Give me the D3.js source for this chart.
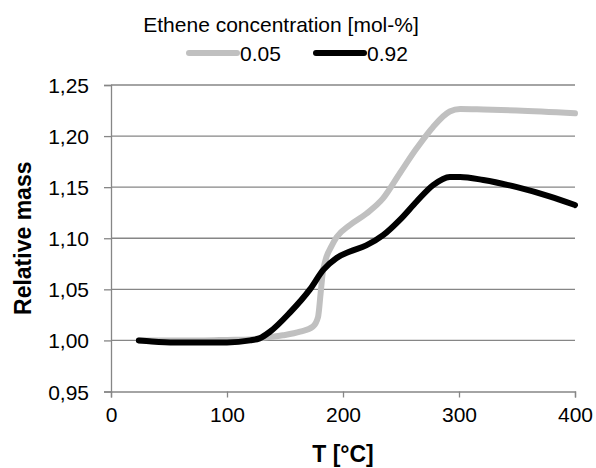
<!DOCTYPE html>
<html>
<head>
<meta charset="utf-8">
<script src="https://cdn.jsdelivr.net/npm/d3@7"></script>
<style>
  body { margin: 0; background: #fff; }
  text { font-family: "Liberation Sans", Arial, sans-serif; fill: #000; }
</style>
</head>
<body>
<div id="chart"></div>
<script>
// T [°C] and relative mass
var tLow = [24, 40, 60, 80, 100, 120, 134, 148, 163, 174, 178.5, 180.7, 182.5, 185, 190, 194.5, 206, 220, 234.5, 249, 263.5, 277.7, 292, 301, 321, 350, 400];
var massLow = [1.000, 1.000, 1.000, 1.000, 1.0005, 1.001, 1.003, 1.005, 1.0085, 1.0135, 1.023, 1.046, 1.066, 1.079, 1.092, 1.101, 1.113, 1.124, 1.139, 1.1636, 1.188, 1.209, 1.224, 1.2265, 1.226, 1.225, 1.2223];

var tHigh = [24, 35, 55, 77, 100, 120, 128, 137, 154, 171.5, 183, 194.5, 206, 220, 234.6, 249, 263.5, 277.7, 292, 301, 321, 350, 378, 400];
var massHigh = [1.000, 0.999, 0.998, 0.998, 0.998, 1.000, 1.002, 1.0085, 1.027, 1.05, 1.069, 1.0807, 1.087, 1.093, 1.103, 1.118, 1.136, 1.152, 1.160, 1.160, 1.157, 1.150, 1.141, 1.1325];

var xTicks = [0, 100, 200, 300, 400];
var yTicks = [0.95, 1.00, 1.05, 1.10, 1.15, 1.20, 1.25];
var seriesNames = ["0.05", "0.92"];
var seriesColors = ["#c0c0c0", "#000000"];

var w = 596, h = 468;
var plotL = 111, plotR = 575, plotT = 85, plotB = 391.5;

var svg = d3.select("#chart").append("svg")
    .attr("width", w)
    .attr("height", h);

var x = d3.scaleLinear().domain([0, 400]).range([plotL, plotR]);
var y = d3.scaleLinear().domain([0.95, 1.25]).range([plotB, plotT]);

var fmt = function(d) { return d3.format(".2f")(d).replace(".", ","); };

// gridlines
svg.selectAll("line.grid")
   .data(yTicks.slice(1))
   .enter()
   .append("line")
   .attr("class", "grid")
   .attr("x1", plotL)
   .attr("x2", plotR)
   .attr("y1", function(d) { return y(d); })
   .attr("y2", function(d) { return y(d); })
   .attr("stroke", "#868686")
   .attr("stroke-width", 1.3);

// y axis
var yAxis = svg.append("g")
   .attr("transform", "translate(" + plotL + ",0)")
   .call(d3.axisLeft(y).tickValues(yTicks).tickFormat(fmt).tickSizeOuter(0).tickSize(7).tickPadding(15));

// x axis
var xAxis = svg.append("g")
   .attr("transform", "translate(0," + plotB + ")")
   .call(d3.axisBottom(x).tickValues(xTicks).tickSizeOuter(0).tickSize(6).tickPadding(10));

[yAxis, xAxis].forEach(function(g) {
  g.select(".domain").attr("stroke", "#868686").attr("stroke-width", 1.3);
  g.selectAll(".tick line").attr("stroke", "#868686").attr("stroke-width", 1.3);
  g.selectAll("text")
   .attr("font-family", "Liberation Sans, Arial, sans-serif")
   .attr("font-size", "21px")
   .attr("fill", "#000");
});
yAxis.selectAll("text").attr("dy", "0.36em");

// lines
var line = d3.line()
   .x(function(d) { return x(d[0]); })
   .y(function(d) { return y(d[1]); })
   .curve(d3.curveMonotoneX);

var series = [d3.zip(tLow, massLow), d3.zip(tHigh, massHigh)];

svg.selectAll("path.series")
   .data(series)
   .enter()
   .append("path")
   .attr("class", "series")
   .attr("d", line)
   .attr("fill", "none")
   .attr("stroke", function(d, i) { return seriesColors[i]; })
   .attr("stroke-width", 6)
   .attr("stroke-linecap", "round")
   .attr("stroke-linejoin", "round");

// axis titles
svg.append("text")
   .text("T [°C]")
   .attr("x", (plotL + plotR) / 2)
   .attr("y", 462)
   .attr("text-anchor", "middle")
   .attr("font-weight", "bold")
   .attr("font-size", "23px");

svg.append("text")
   .text("Relative mass")
   .attr("transform", "translate(31," + (plotT + plotB) / 2 + ") rotate(-90)")
   .attr("text-anchor", "middle")
   .attr("font-weight", "bold")
   .attr("font-size", "23px");

// legend
svg.append("text")
   .text("Ethene concentration [mol-%]")
   .attr("x", 281)
   .attr("y", 32)
   .attr("text-anchor", "middle")
   .attr("font-size", "21px");

var legendX = [189, 316];
var leg = svg.selectAll("g.leg")
   .data(seriesNames)
   .enter()
   .append("g")
   .attr("class", "leg")
   .attr("transform", function(d, i) { return "translate(" + legendX[i] + ",53)"; });

leg.append("line")
   .attr("x1", 0)
   .attr("x2", 48)
   .attr("stroke", function(d, i) { return seriesColors[i]; })
   .attr("stroke-width", 6)
   .attr("stroke-linecap", "round");

leg.append("text")
   .text(function(d) { return d; })
   .attr("x", 51)
   .attr("y", 8)
   .attr("font-size", "21px");
</script>
</body>
</html>
